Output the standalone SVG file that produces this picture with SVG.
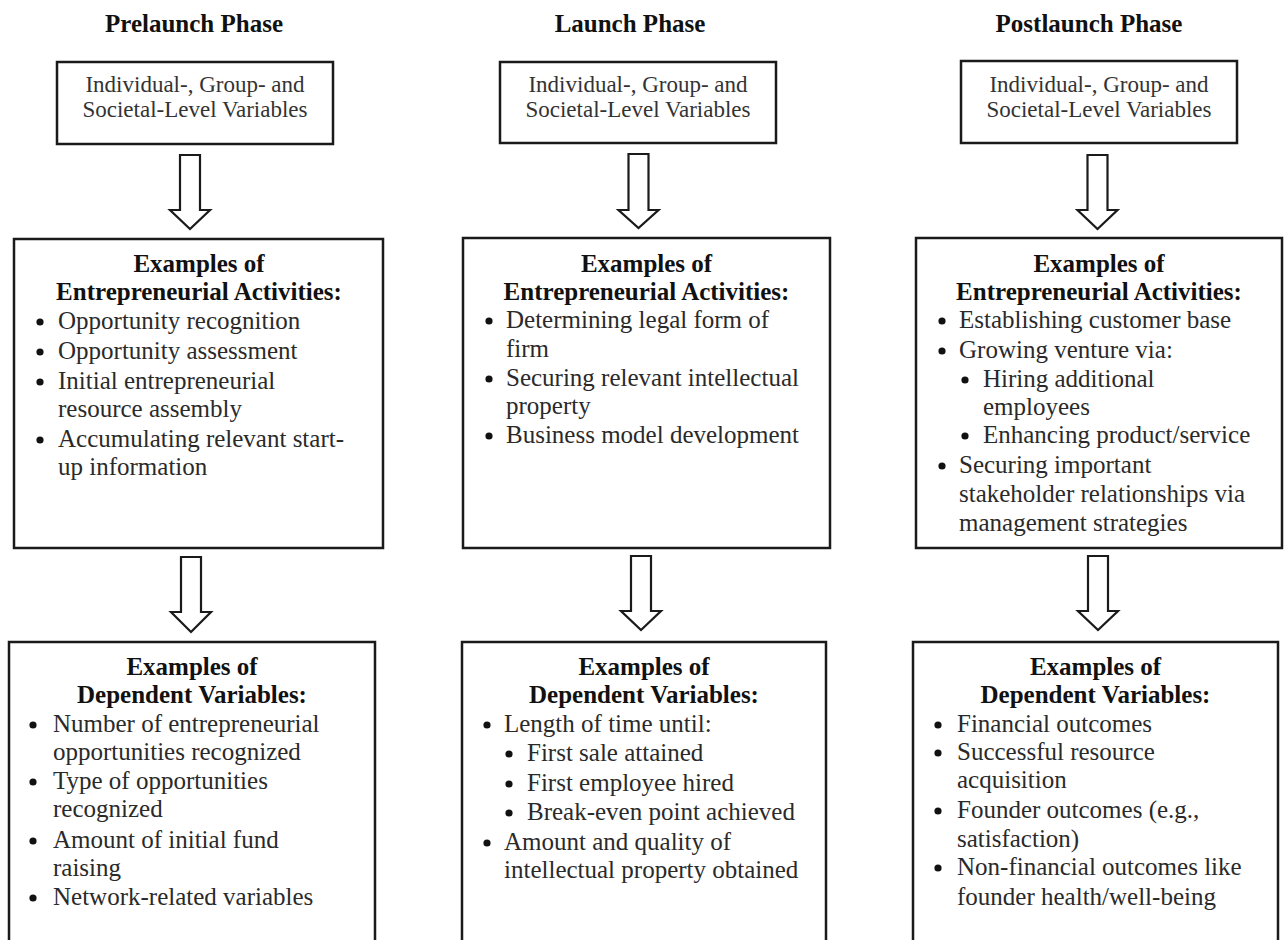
<svg xmlns="http://www.w3.org/2000/svg" width="1284" height="940" viewBox="0 0 1284 940">
<style>
.title{font-family:"Liberation Serif","Times New Roman",serif;font-weight:bold;font-size:25px;fill:#111;text-anchor:middle}
.top{font-family:"Liberation Serif","Times New Roman",serif;font-size:23px;fill:#333;text-anchor:middle}
.head{font-family:"Liberation Serif","Times New Roman",serif;font-weight:bold;font-size:25px;fill:#111;text-anchor:middle}
.body{font-family:"Liberation Serif","Times New Roman",serif;font-size:25px;fill:#2a2a2a}
.box{fill:#fff;stroke:#1a1a1a;stroke-width:2.5}
.arrow{fill:#fff;stroke:#1a1a1a;stroke-width:2.2;stroke-linejoin:miter}
.dot{fill:#111}
</style>
<rect width="1284" height="940" fill="#fff"/>

<g id="titles">
<text class="title" x="194" y="32">Prelaunch Phase</text>
<text class="title" x="630" y="32">Launch Phase</text>
<text class="title" x="1089" y="32">Postlaunch Phase</text>
</g>

<g id="connectors">
<path class="arrow" d="M180 155 H200 V210 H210 L190 229 L170 210 H180 Z"/>
<path class="arrow" d="M628.5 154 H648.5 V210 H658.5 L638.5 228 L618.5 210 H628.5 Z"/>
<path class="arrow" d="M1087.5 155 H1107.5 V210 H1117.5 L1097.5 229 L1077.5 210 H1087.5 Z"/>
<path class="arrow" d="M181 557 H201 V612 H211 L191 632 L171 612 H181 Z"/>
<path class="arrow" d="M631 556 H651 V611 H661 L641 630 L621 611 H631 Z"/>
<path class="arrow" d="M1088 556 H1108 V611 H1118 L1098 630 L1078 611 H1088 Z"/>
</g>

<g id="pre-top">
<rect class="box" x="57" y="62" width="276" height="82"/>
<text class="top" x="195" y="92">Individual-, Group- and</text>
<text class="top" x="195" y="117">Societal-Level Variables</text>
</g>
<g id="launch-top">
<rect class="box" x="500" y="62" width="276" height="81"/>
<text class="top" x="638" y="92">Individual-, Group- and</text>
<text class="top" x="638" y="117">Societal-Level Variables</text>
</g>
<g id="post-top">
<rect class="box" x="961" y="61" width="276" height="82"/>
<text class="top" x="1099" y="92">Individual-, Group- and</text>
<text class="top" x="1099" y="117">Societal-Level Variables</text>
</g>

<g id="pre-activities">
<rect class="box" x="14" y="239" width="369" height="309"/>
<text class="head" x="199" y="272">Examples of</text>
<text class="head" x="199" y="300">Entrepreneurial Activities:</text>
<circle class="dot" cx="40" cy="322" r="3.6"/>
<text class="body" x="58" y="329">Opportunity recognition</text>
<circle class="dot" cx="40" cy="352" r="3.6"/>
<text class="body" x="58" y="359">Opportunity assessment</text>
<circle class="dot" cx="40" cy="382" r="3.6"/>
<text class="body" x="58" y="389">Initial entrepreneurial</text>
<text class="body" x="58" y="417">resource assembly</text>
<circle class="dot" cx="40" cy="440" r="3.6"/>
<text class="body" x="58" y="447">Accumulating relevant start-</text>
<text class="body" x="58" y="475">up information</text>
</g>

<g id="launch-activities">
<rect class="box" x="463" y="238" width="367" height="310"/>
<text class="head" x="646.5" y="272">Examples of</text>
<text class="head" x="646.5" y="300">Entrepreneurial Activities:</text>
<circle class="dot" cx="489" cy="321" r="3.6"/>
<text class="body" x="506" y="328">Determining legal form of</text>
<text class="body" x="506" y="357">firm</text>
<circle class="dot" cx="489" cy="379" r="3.6"/>
<text class="body" x="506" y="386">Securing relevant intellectual</text>
<text class="body" x="506" y="414">property</text>
<circle class="dot" cx="489" cy="436" r="3.6"/>
<text class="body" x="506" y="443">Business model development</text>
</g>

<g id="post-activities">
<rect class="box" x="916" y="238" width="366" height="310"/>
<text class="head" x="1099" y="272">Examples of</text>
<text class="head" x="1099" y="300">Entrepreneurial Activities:</text>
<circle class="dot" cx="942" cy="321" r="3.6"/>
<text class="body" x="959" y="328">Establishing customer base</text>
<circle class="dot" cx="942" cy="351" r="3.6"/>
<text class="body" x="959" y="358">Growing venture via:</text>
<circle class="dot" cx="965" cy="380" r="3.6"/>
<text class="body" x="983" y="387">Hiring additional</text>
<text class="body" x="983" y="415">employees</text>
<circle class="dot" cx="965" cy="436" r="3.6"/>
<text class="body" x="983" y="443">Enhancing product/service</text>
<circle class="dot" cx="942" cy="466" r="3.6"/>
<text class="body" x="959" y="473">Securing important</text>
<text class="body" x="959" y="502">stakeholder relationships via</text>
<text class="body" x="959" y="531">management strategies</text>
</g>

<g id="pre-outcomes">
<rect class="box" x="9" y="642" width="366" height="320"/>
<text class="head" x="192" y="675">Examples of</text>
<text class="head" x="192" y="703">Dependent Variables:</text>
<circle class="dot" cx="33" cy="725" r="3.6"/>
<text class="body" x="53" y="732">Number of entrepreneurial</text>
<text class="body" x="53" y="760">opportunities recognized</text>
<circle class="dot" cx="33" cy="782" r="3.6"/>
<text class="body" x="53" y="789">Type of opportunities</text>
<text class="body" x="53" y="817">recognized</text>
<circle class="dot" cx="33" cy="841" r="3.6"/>
<text class="body" x="53" y="848">Amount of initial fund</text>
<text class="body" x="53" y="876">raising</text>
<circle class="dot" cx="33" cy="898" r="3.6"/>
<text class="body" x="53" y="905">Network-related variables</text>
</g>

<g id="launch-outcomes">
<rect class="box" x="462" y="642" width="364" height="320"/>
<text class="head" x="644" y="675">Examples of</text>
<text class="head" x="644" y="703">Dependent Variables:</text>
<circle class="dot" cx="487" cy="725" r="3.6"/>
<text class="body" x="504" y="732">Length of time until:</text>
<circle class="dot" cx="509" cy="754" r="3.6"/>
<text class="body" x="527" y="761">First sale attained</text>
<circle class="dot" cx="509" cy="784" r="3.6"/>
<text class="body" x="527" y="791">First employee hired</text>
<circle class="dot" cx="509" cy="813" r="3.6"/>
<text class="body" x="527" y="820">Break-even point achieved</text>
<circle class="dot" cx="487" cy="843" r="3.6"/>
<text class="body" x="504" y="850">Amount and quality of</text>
<text class="body" x="504" y="878">intellectual property obtained</text>
</g>

<g id="post-outcomes">
<rect class="box" x="913" y="642" width="365" height="320"/>
<text class="head" x="1095.5" y="675">Examples of</text>
<text class="head" x="1095.5" y="703">Dependent Variables:</text>
<circle class="dot" cx="938" cy="725" r="3.6"/>
<text class="body" x="957" y="732">Financial outcomes</text>
<circle class="dot" cx="938" cy="753" r="3.6"/>
<text class="body" x="957" y="760">Successful resource</text>
<text class="body" x="957" y="788">acquisition</text>
<circle class="dot" cx="938" cy="811" r="3.6"/>
<text class="body" x="957" y="818">Founder outcomes (e.g.,</text>
<text class="body" x="957" y="847">satisfaction)</text>
<circle class="dot" cx="938" cy="868" r="3.6"/>
<text class="body" x="957" y="875">Non-financial outcomes like</text>
<text class="body" x="957" y="905">founder health/well-being</text>
</g>
</svg>
